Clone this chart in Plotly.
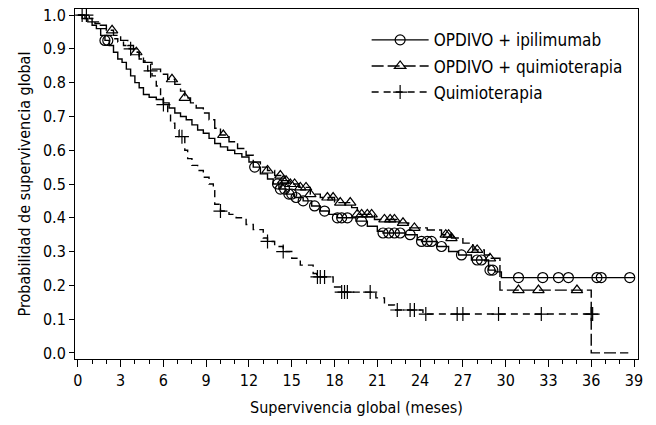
import numpy as np
import plotly.graph_objects as go

# ---------------- data ----------------
series_names = ["OPDIVO + ipilimumab", "OPDIVO + quimioterapia", "Quimioterapia"]

ipi_t = [0, 0.3, 0.7, 1.0, 1.3, 1.6, 1.9, 2.2, 2.5, 2.8, 3.1, 3.4, 3.7, 4.0, 4.3, 4.6, 5.0, 5.5,
         6.0, 6.4, 6.8, 7.2, 7.6, 8.0, 8.4, 8.8, 9.2, 9.6, 10.0, 10.5, 11.0, 11.5, 12.0, 12.3,
         12.8, 13.3, 13.7, 14.1, 14.6, 15.2, 15.8, 16.4, 17.0, 17.6, 18.2, 19.5, 20.3, 21.0,
         21.4, 23.0, 23.8, 24.1, 25.2, 26.0, 26.7, 27.6, 28.8, 29.3, 29.7, 39.0]
ipi_s = [1.0, 0.99, 0.98, 0.97, 0.96, 0.94, 0.925, 0.91, 0.89, 0.87, 0.86, 0.84, 0.82, 0.80,
         0.785, 0.765, 0.757, 0.75, 0.74, 0.725, 0.71, 0.70, 0.69, 0.675, 0.66, 0.65, 0.635,
         0.62, 0.61, 0.60, 0.59, 0.58, 0.565, 0.55, 0.53, 0.515, 0.50, 0.485, 0.47, 0.46, 0.45,
         0.435, 0.42, 0.41, 0.40, 0.39, 0.375, 0.36, 0.355, 0.35, 0.335, 0.33, 0.315, 0.30,
         0.29, 0.275, 0.245, 0.24, 0.223, 0.223]
ipi_cens = [1.9, 2.1, 12.4, 14.0, 14.2, 14.5, 14.8, 15.0, 15.3, 15.8, 16.6, 17.3, 18.2, 18.5,
            18.9, 19.9, 21.4, 21.8, 22.2, 22.6, 23.3, 24.1, 24.5, 24.8, 25.5, 26.9, 28.0, 28.3,
            28.9, 29.1, 30.9, 32.6, 33.7, 34.4, 36.4, 36.7, 38.7]

chemo_n_t = [0, 0.5, 1.0, 1.5, 2.0, 2.5, 3.0, 3.5, 3.9, 4.3, 4.7, 5.2, 5.8, 6.3, 6.8, 7.2, 7.5,
             7.9, 8.3, 8.8, 9.2, 9.6, 10.0, 10.6, 11.2, 11.8, 12.3, 12.8, 13.3, 13.8, 14.3, 14.8,
             15.5, 16.3, 17.0, 18.0, 19.2, 19.6, 20.8, 22.5, 23.2, 24.5, 25.5, 26.2, 27.0, 27.7,
             28.5, 28.9, 29.6, 36.0, 38.6]
chemo_n_s = [1.0, 0.99, 0.98, 0.97, 0.955, 0.94, 0.925, 0.91, 0.89, 0.87, 0.86, 0.84, 0.825,
             0.81, 0.795, 0.775, 0.755, 0.74, 0.725, 0.71, 0.69, 0.665, 0.645, 0.625, 0.605,
             0.585, 0.565, 0.55, 0.54, 0.525, 0.51, 0.50, 0.49, 0.47, 0.46, 0.445, 0.43, 0.41,
             0.395, 0.385, 0.37, 0.364, 0.35, 0.34, 0.325, 0.305, 0.29, 0.28, 0.186, 0.0, 0.0]
chemo_n_cens = [2.4, 4.1, 6.6, 7.5, 10.2, 13.3, 14.2, 14.4, 14.6, 14.9, 15.2, 15.6, 16.0, 16.3,
                17.5, 17.9, 18.4, 19.1, 19.6, 19.9, 20.3, 20.6, 21.5, 21.9, 22.2, 22.8, 23.6,
                25.8, 26.0, 26.2, 27.7, 28.0, 28.9, 30.9, 32.3, 35.0]

chemo_t = [0, 0.8, 1.2, 1.6, 2.0, 2.4, 2.8, 3.2, 3.6, 4.0, 4.3, 4.6, 4.9, 5.2, 5.5, 5.8, 6.0,
           6.3, 6.5, 6.8, 7.1, 7.5, 7.7, 8.0, 8.4, 8.8, 9.2, 9.5, 9.6, 10.0, 10.6, 11.1, 11.8,
           12.3, 13.0, 13.3, 13.8, 14.4, 15.0, 15.6, 16.5, 16.75, 17.9, 18.5, 20.9, 21.5, 22.2,
           24.2, 36.1]
chemo_s = [1.0, 0.99, 0.975, 0.96, 0.94, 0.93, 0.92, 0.91, 0.90, 0.89, 0.875, 0.86, 0.835,
           0.82, 0.79, 0.76, 0.735, 0.71, 0.68, 0.66, 0.64, 0.60, 0.575, 0.555, 0.54, 0.52,
           0.50, 0.48, 0.44, 0.42, 0.41, 0.40, 0.38, 0.365, 0.34, 0.33, 0.315, 0.30, 0.28,
           0.26, 0.235, 0.225, 0.195, 0.18, 0.163, 0.142, 0.127, 0.115, 0.115]
chemo_cens = [0.3, 0.6, 3.7, 5.1, 6.0, 7.3, 10.0, 13.3, 14.4, 16.8, 17.0, 17.3, 18.5, 18.7,
              18.9, 20.5, 22.4, 23.3, 23.6, 24.4, 26.6, 27.0, 29.5, 32.5, 36.0, 36.1]

x_ticks = list(range(0, 40, 3))
y_ticks = [round(0.1 * i, 1) for i in range(11)]

# ---------------- helpers ----------------
def step_value(t_arr, s_arr, x):
    t_arr = np.asarray(t_arr)
    s_arr = np.asarray(s_arr)
    idx = np.searchsorted(t_arr, np.asarray(x), side="right") - 1
    idx = np.clip(idx, 0, len(s_arr) - 1)
    return s_arr[idx]

FONT = "Liberation Sans Narrow, Arial Narrow, DejaVu Sans Condensed, sans-serif"

styles = [
    dict(dash="solid", symbol="circle-open", size=10),
    dict(dash="12px,4px", symbol="triangle-up-open", size=10),
    dict(dash="7px,5px", symbol="cross-thin-open", size=10),
]
curves = [(ipi_t, ipi_s, ipi_cens), (chemo_n_t, chemo_n_s, chemo_n_cens), (chemo_t, chemo_s, chemo_cens)]

fig = go.Figure()
for name, (t, s, c), st in zip(series_names, curves, styles):
    fig.add_trace(go.Scatter(x=t, y=s, mode="lines", line=dict(color="black", width=1.4, dash=st["dash"], shape="hv"),
                             showlegend=False, hoverinfo="skip"))
    fig.add_trace(go.Scatter(x=c, y=step_value(t, s, c), mode="markers",
                             marker=dict(symbol=st["symbol"], size=st["size"], color="black",
                                         line=dict(color="black", width=1.2)),
                             showlegend=False))
    fig.add_trace(go.Scatter(x=[None], y=[None], mode="lines+markers", name=name, legendgroup=name,
                             line=dict(color="black", width=1.4, dash=st["dash"]),
                             marker=dict(symbol=st["symbol"], size=st["size"], color="black",
                                         line=dict(color="black", width=1.2))))

fig.update_layout(
    width=656, height=425,
    margin=dict(l=75, r=18, t=9, b=66, autoexpand=False),
    paper_bgcolor="white", plot_bgcolor="white",
    font=dict(family=FONT, color="black", size=16),
    legend=dict(x=0.518, y=0.962, xanchor="left", yanchor="top", bgcolor="rgba(0,0,0,0)",
                font=dict(family=FONT, size=17, color="black"), itemwidth=57,
                tracegroupgap=1),
    xaxis=dict(range=[-0.2, 39.28], tickvals=x_ticks, ticktext=[str(v) for v in x_ticks],
               ticks="outside", ticklen=7, tickwidth=1, tickcolor="black",
               minor=dict(dtick=1, tick0=0, ticks="outside", ticklen=4, tickcolor="black"),
               showline=True, linecolor="black", linewidth=1, mirror=True,
               showgrid=False, zeroline=False, automargin=False,
               tickfont=dict(size=16), title=dict(text="Supervivencia global (meses)", font=dict(size=16), standoff=12)),
    yaxis=dict(range=[-0.018, 1.018], tickvals=y_ticks, ticktext=[f"{v:.1f}" for v in y_ticks],
               ticks="outside", ticklen=5, tickwidth=1, tickcolor="black",
               showline=True, linecolor="black", linewidth=1, mirror=True,
               showgrid=False, zeroline=False, automargin=False,
               tickfont=dict(size=16), title=dict(text="Probabilidad de supervivencia global", font=dict(size=16), standoff=8)),
)

fig.write_html("out.html", config={"displayModeBar": False},
               post_script="document.body.style.margin='0';document.body.style.padding='0';")
